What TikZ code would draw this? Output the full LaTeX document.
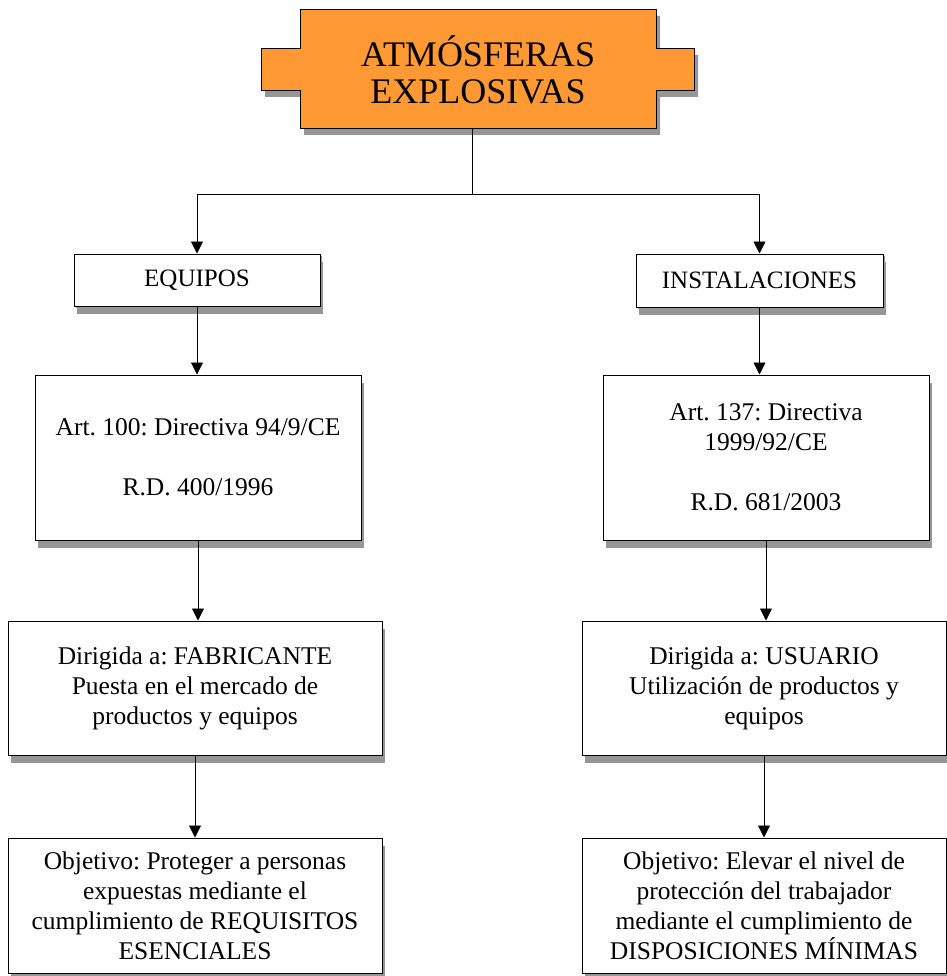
\documentclass[tikz,border=0pt]{standalone}
\usepackage{fontspec}
\setmainfont{Liberation Serif}
\usetikzlibrary{arrows.meta,shadows}
\definecolor{naranja}{RGB}{255,153,51}
\definecolor{sombra}{RGB}{150,150,150}
\frenchspacing

\begin{document}
\begin{tikzpicture}[x=1pt,y=-1pt,
    caja/.style={draw,line width=1pt,fill=white,inner sep=0pt,align=center,
      font=\fontsize{25.5}{30}\selectfont,
      drop shadow={shadow xshift=3pt,shadow yshift=-8pt,fill=sombra,opacity=1}},
    etiqueta/.style={caja,font=\fontsize{25}{28}\selectfont,
      drop shadow={shadow xshift=2pt,shadow yshift=-2pt,fill=sombra,opacity=1}},
    flecha/.style={-{Triangle[width=12pt,length=12pt]},line width=0.8pt}]
  \useasboundingbox (0,0) rectangle (946,976);

  % cabecera con pestanas
  \filldraw[fill=naranja,line width=1pt,
      drop shadow={shadow xshift=4pt,shadow yshift=-6pt,fill=sombra,opacity=1}]
    (300,10) -- (656,10) -- (656,49) -- (694,49) -- (694,91) -- (656,91)
    -- (656,129) -- (300,129) -- (300,91) -- (261,91) -- (261,49) -- (300,49) -- cycle;
  \node[minimum width=356pt,minimum height=119pt,align=center,
      font=\fontsize{36}{37}\selectfont] (title) at (478,69.5) {ATMÓSFERAS\\EXPLOSIVAS};

  \node[etiqueta,minimum width=246pt,minimum height=52pt] (equipos) at (197,280) {EQUIPOS};
  \node[etiqueta,minimum width=247pt,minimum height=53pt] (instal) at (759.5,280.5) {INSTALACIONES};

  \node[caja,minimum width=326pt,minimum height=165pt] (artL) at (198,457.5)
    {Art. 100: Directiva 94/9/CE\\[30pt]R.D. 400/1996};
  \node[caja,minimum width=326pt,minimum height=165pt] (artR) at (766,457.5)
    {Art. 137: Directiva\\1999/92/CE\\[30pt]R.D. 681/2003};

  \node[caja,minimum width=374pt,minimum height=134pt] (dirL) at (195,688)
    {Dirigida a: FABRICANTE\\Puesta en el mercado de\\productos y equipos};
  \node[caja,minimum width=364pt,minimum height=134pt] (dirR) at (764,688)
    {Dirigida a: USUARIO\\Utilización de productos y\\equipos};

  \node[caja,minimum width=374pt,minimum height=135pt] (objL) at (195,905.5)
    {Objetivo: Proteger a personas\\expuestas mediante el\\cumplimiento de REQUISITOS\\ESENCIALES};
  \node[caja,minimum width=364pt,minimum height=135pt] (objR) at (764,905.5)
    {Objetivo: Elevar el nivel de\\protección del trabajador\\mediante el cumplimiento de\\DISPOSICIONES MÍNIMAS};

  \coordinate (split) at (472,194);
  \draw[line width=0.8pt] (split |- title.south) -- (split);
  \draw[flecha] (split) -| (equipos);
  \draw[flecha] (split) -| (instal);
  \foreach \a/\b in {equipos/artL,artL/dirL,dirL/objL,instal/artR,artR/dirR,dirR/objR}
    \draw[flecha] (\a.south) -- (\a.south |- \b.north);
\end{tikzpicture}
\end{document}
